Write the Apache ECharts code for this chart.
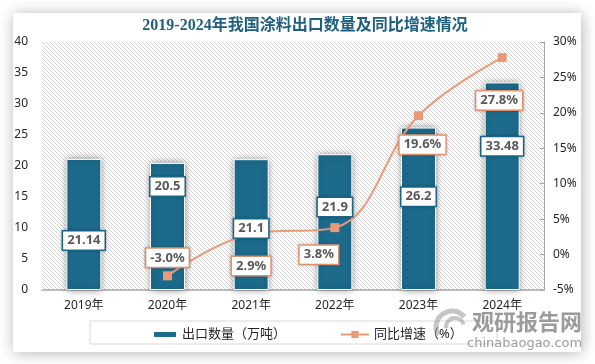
<!DOCTYPE html>
<html>
<head>
<meta charset="utf-8">
<script src="https://cdn.jsdelivr.net/npm/echarts@6/dist/echarts.min.js"></script>
<style>
html,body{margin:0;padding:0;background:#fff;}
#chart{width:595px;height:364px;}
</style>
</head>
<body>
<div id="chart"></div>
<script>
// ---- data ----
const categories = ['2019年', '2020年', '2021年', '2022年', '2023年', '2024年'];
const exportVolume = [21.14, 20.5, 21.1, 21.9, 26.2, 33.48];
const yoyGrowth = [null, -3.0, 2.9, 3.8, 19.6, 27.8];
const leftTicks = [0, 40, 5];
const rightTicks = [-5, 30, 5];
const seriesNames = ['出口数量（万吨）', '同比增速（%）'];
const titleText = '2019-2024年我国涂料出口数量及同比增速情况';

// ---- layout/style config (not data) ----
const barLabelOffsets = [[0, 16], [0, -40], [0, 4], [0, -15], [0, -12], [0, -40]];
const lineLabelOffsets = [[0, 0], [0, -18], [0, 32], [-16, 27], [4, 29], [-3, 43]];

const BAR = '#1d6b8c';
const LINE = '#eb9a78';
const FONT = "'Noto Sans','Noto Sans CJK SC',sans-serif";

// hatch pattern for plot background
const pc = document.createElement('canvas');
pc.width = 4; pc.height = 4;
const pctx = pc.getContext('2d');
pctx.fillStyle = '#ffffff';
pctx.fillRect(0, 0, 4, 4);
pctx.strokeStyle = '#d4d4d4';
pctx.lineWidth = 1;
pctx.beginPath();
pctx.moveTo(-1, -1); pctx.lineTo(5, 5);
pctx.moveTo(-1, 3); pctx.lineTo(1, 5);
pctx.moveTo(3, -1); pctx.lineTo(5, 1);
pctx.stroke();

const labelBase = {
  show: true,
  fontFamily: FONT,
  fontSize: 13,
  fontWeight: 'bold',
  color: '#595959',
  backgroundColor: '#fff',
  borderWidth: 1.5,
  padding: [3, 4, 2, 4],
  shadowColor: 'rgba(0,0,0,0.25)',
  shadowBlur: 3
};

const barLabelData = exportVolume.map((v, i) => ({
  value: v,
  label: Object.assign({}, labelBase, {
    position: 'inside', offset: barLabelOffsets[i], borderColor: BAR,
    formatter: String(v)
  })
}));
const lineData = yoyGrowth.map((v, i) => ({
  value: v === null ? '-' : v,
  label: Object.assign({}, labelBase, {
    show: v !== null,
    position: 'inside', offset: lineLabelOffsets[i], borderColor: LINE,
    formatter: v === null ? '' : v.toFixed(1) + '%'
  })
}));

const chart = echarts.init(document.getElementById('chart'), null, {renderer: 'canvas'});

const option = {
  animation: false,
  backgroundColor: 'transparent',
  title: {
    text: titleText,
    left: 300, top: 13, textAlign: 'center',
    textStyle: {
      fontFamily: "'Liberation Serif','Noto Sans CJK SC',serif",
      fontSize: 16, fontWeight: 'bold', color: '#1f5f7f'
    }
  },
  grid: {
    left: 42, right: 51, top: 42, bottom: 74,
    show: true, borderWidth: 0,
    backgroundColor: {image: pc, repeat: 'repeat'}
  },
  legend: [
    {
      data: [seriesNames[0]], left: 147, top: 323,
      itemWidth: 24, itemHeight: 7,
      textStyle: {fontFamily: FONT, fontSize: 13, color: '#262626'}
    },
    {
      data: [seriesNames[1]], left: 335, top: 323,
      itemWidth: 28, itemHeight: 9,
      textStyle: {fontFamily: FONT, fontSize: 13, color: '#262626'}
    }
  ],
  xAxis: {
    type: 'category',
    data: categories,
    axisLine: {lineStyle: {color: '#a6a6a6', width: 1.5}},
    axisTick: {show: false},
    axisLabel: {fontFamily: FONT, fontSize: 12, color: '#262626', margin: 10}
  },
  yAxis: [
    {
      type: 'value', min: leftTicks[0], max: leftTicks[1], interval: leftTicks[2],
      axisLine: {show: false}, axisTick: {show: false}, splitLine: {show: false},
      axisLabel: {fontFamily: FONT, fontSize: 12, color: '#262626', margin: 14}
    },
    {
      type: 'value', min: rightTicks[0], max: rightTicks[1], interval: rightTicks[2],
      position: 'right',
      axisLine: {show: true, lineStyle: {color: '#a6a6a6'}},
      axisTick: {show: true, inside: true, length: 4, lineStyle: {color: '#a6a6a6'}},
      splitLine: {show: false},
      axisLabel: {fontFamily: FONT, fontSize: 12, color: '#262626', margin: 9, formatter: '{value}%'}
    }
  ],
  series: [
    {
      name: seriesNames[0], type: 'bar', barWidth: 35,
      data: exportVolume,
      itemStyle: {
        color: BAR, borderColor: '#fff', borderWidth: 1,
        shadowColor: 'rgba(0,0,0,0.4)', shadowBlur: 7
      },
      z: 2
    },
    {
      name: seriesNames[1], type: 'line', yAxisIndex: 1,
      data: lineData, smooth: 0.4, connectNulls: false,
      symbol: 'rect', symbolSize: 9,
      lineStyle: {color: LINE, width: 2},
      itemStyle: {color: LINE},
      z: 3
    },
    {
      // transparent overlay carrying bar value labels above the line
      name: 'barLabels', type: 'bar', barWidth: 35, barGap: '-100%',
      data: barLabelData, silent: true,
      itemStyle: {color: 'rgba(0,0,0,0)'},
      z: 5
    }
  ],
  graphic: [
    {
      type: 'rect', z: -100, silent: true,
      shape: {x: 13, y: 13, width: 568, height: 339},
      style: {fill: '#fff', shadowColor: 'rgba(0,0,0,0.3)', shadowBlur: 14, shadowOffsetX: 1, shadowOffsetY: 1}
    },
    {
      type: 'rect', z: -50, silent: true,
      shape: {x: 90, y: 321, width: 407, height: 23},
      style: {fill: 'none', stroke: '#d9d9d9', lineWidth: 1}
    },
    {
      type: 'arc', silent: true, z: 10,
      shape: {cx: 452, cy: 327, r: 16, startAngle: 2.6, endAngle: 5.6},
      style: {stroke: 'rgba(150,150,150,0.55)', lineWidth: 5, fill: 'none'}
    },
    {
      type: 'arc', silent: true, z: 10,
      shape: {cx: 455, cy: 327, r: 9, startAngle: 3.0, endAngle: 6.0},
      style: {stroke: 'rgba(150,150,150,0.55)', lineWidth: 4, fill: 'none'}
    },
    {
      type: 'text', silent: true, z: 10,
      style: {x: 472, y: 311, text: '观研报告网', fill: 'rgba(130,130,130,0.8)',
        font: "bold 22px 'Noto Sans CJK SC'"}
    },
    {
      type: 'text', silent: true, z: 10,
      style: {x: 467, y: 337, text: 'chinabaogao.com', fill: 'rgba(130,130,130,0.8)',
        font: "13px 'DejaVu Sans'"}
    }
  ]
};
chart.setOption(option);
</script>
</body>
</html>
